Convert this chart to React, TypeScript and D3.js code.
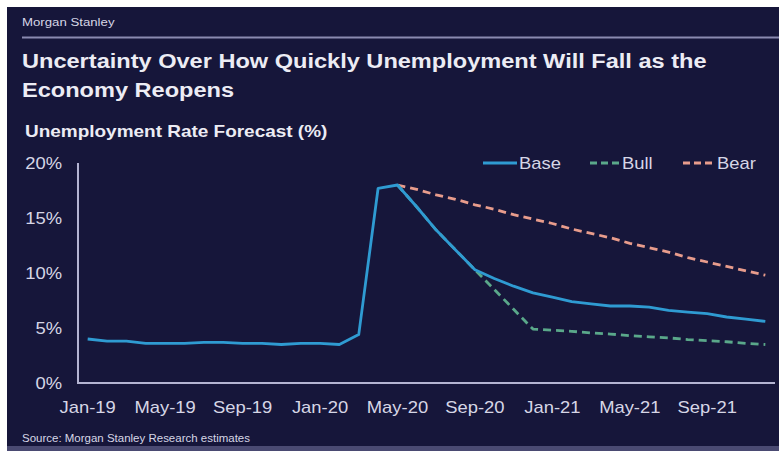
import React from "react";
import * as d3 from "d3";

const months: string[] = [
  "Jan-19","Feb-19","Mar-19","Apr-19","May-19","Jun-19","Jul-19","Aug-19","Sep-19","Oct-19","Nov-19","Dec-19",
  "Jan-20","Feb-20","Mar-20","Apr-20","May-20","Jun-20","Jul-20","Aug-20","Sep-20","Oct-20","Nov-20","Dec-20",
  "Jan-21","Feb-21","Mar-21","Apr-21","May-21","Jun-21","Jul-21","Aug-21","Sep-21","Oct-21","Nov-21","Dec-21",
];

const tickLabels: string[] = ["Jan-19","May-19","Sep-19","Jan-20","May-20","Sep-20","Jan-21","May-21","Sep-21"];
const yTicks: number[] = [0, 5, 10, 15, 20];

const baseValues: (number | null)[] = [
  4.0, 3.8, 3.8, 3.6, 3.6, 3.6, 3.7, 3.7, 3.6, 3.6, 3.5, 3.6,
  3.6, 3.5, 4.4, 17.7, 18.0, 16.0, 13.9, 12.1, 10.3, 9.5, 8.8, 8.2,
  7.8, 7.4, 7.2, 7.0, 7.0, 6.9, 6.6, 6.45, 6.3, 6.0, 5.8, 5.6,
];

const bullValues: (number | null)[] = [
  null, null, null, null, null, null, null, null, null, null, null, null,
  null, null, null, null, 18.0, 16.0, 13.9, 12.1, 10.3, 8.5, 6.7, 4.9,
  4.8, 4.7, 4.55, 4.45, 4.3, 4.2, 4.1, 3.95, 3.85, 3.75, 3.6, 3.5,
];

const bearValues: (number | null)[] = [
  null, null, null, null, null, null, null, null, null, null, null, null,
  null, null, null, null, 18.0, 17.6, 17.1, 16.7, 16.2, 15.8, 15.3, 14.9,
  14.5, 14.0, 13.6, 13.2, 12.7, 12.3, 11.9, 11.4, 11.0, 10.6, 10.2, 9.8,
];

const W = 779;
const H = 451;
const BG = "#16163a";
const TEXT = "#d6d6e6";
const AXIS = "#b4b4d2";
const FONT = "'Liberation Sans', Arial, sans-serif";
const SX = 1.15;

type TProps = {
  x: number;
  y: number;
  size: number;
  bold?: boolean;
  anchor?: "start" | "middle" | "end";
  fill?: string;
  children: React.ReactNode;
};

function T({ x, y, size, bold, anchor = "start", fill = TEXT, children }: TProps) {
  return (
    <text
      transform={`translate(${x},${y}) scale(${SX},1)`}
      fontSize={size}
      fontWeight={bold ? "bold" : "normal"}
      textAnchor={anchor}
      fill={fill}
    >
      {children}
    </text>
  );
}

export default function App() {
  const x = d3.scaleBand<string>().domain(months).range([78, 775]).paddingInner(0).paddingOuter(0);
  const y = d3.scaleLinear().domain([0, 20]).range([383, 163]);
  const cx = (m: string) => (x(m) ?? 0) + x.bandwidth() / 2;

  const line = d3
    .line<number | null>()
    .defined((d) => d !== null)
    .x((_, i) => cx(months[i]))
    .y((d) => y(d as number));

  const series = [
    { name: "Base", values: baseValues, color: "#2f9bd2", dash: "none" },
    { name: "Bull", values: bullValues, color: "#5aa88a", dash: "8,5" },
    { name: "Bear", values: bearValues, color: "#e89c8c", dash: "8,5" },
  ];

  const legend = [
    { name: "Base", color: "#2f9bd2", dash: "none", x1: 483, x2: 517, tx: 519 },
    { name: "Bull", color: "#5aa88a", dash: "7,4", x1: 590, x2: 621, tx: 622 },
    { name: "Bear", color: "#e89c8c", dash: "7,4", x1: 683, x2: 716, tx: 717 },
  ];

  return (
    <div style={{ position: "absolute", left: 0, top: 0 }}>
      <svg width={W} height={H} style={{ display: "block" }} fontFamily={FONT}>
        <rect x={0} y={0} width={W} height={H} fill="#ffffff" />
        <rect x={7} y={7} width={W - 7} height={H - 7} fill={BG} />
        <rect x={7} y={446} width={W - 7} height={5} fill="#4a4a72" />

        <T x={22} y={26} size={11.5}>Morgan Stanley</T>
        <line x1={22} x2={W} y1={37.5} y2={37.5} stroke="#8a8ab0" strokeWidth={2} />

        <T x={22} y={68} size={20.5} bold fill="#ececf4">
          Uncertainty Over How Quickly Unemployment Will Fall as the
        </T>
        <T x={22} y={97} size={20.5} bold fill="#ececf4">
          Economy Reopens
        </T>
        <T x={25} y={137} size={16.5} bold fill="#ececf4">
          Unemployment Rate Forecast (%)
        </T>

        {yTicks.map((t) => (
          <T key={t} x={62} y={y(t) + 6} size={16} anchor="end">
            {`${t}%`}
          </T>
        ))}
        {tickLabels.map((t) => (
          <T key={t} x={cx(t)} y={413} size={16} anchor="middle">
            {t}
          </T>
        ))}

        <line x1={78} x2={78} y1={163} y2={383} stroke={AXIS} strokeWidth={2} />
        <line x1={77} x2={775} y1={383} y2={383} stroke={AXIS} strokeWidth={2} />

        {series
          .slice()
          .reverse()
          .map((s) => (
            <path
              key={s.name}
              d={line(s.values) ?? ""}
              fill="none"
              stroke={s.color}
              strokeWidth={2.8}
              strokeDasharray={s.dash === "none" ? undefined : s.dash}
              strokeLinejoin="round"
            />
          ))}

        {legend.map((l) => (
          <g key={l.name}>
            <line
              x1={l.x1}
              x2={l.x2}
              y1={163}
              y2={163}
              stroke={l.color}
              strokeWidth={2.8}
              strokeDasharray={l.dash === "none" ? undefined : l.dash}
            />
            <T x={l.tx} y={169} size={16}>
              {l.name}
            </T>
          </g>
        ))}

        <T x={22} y={442} size={10}>
          Source: Morgan Stanley Research estimates
        </T>
      </svg>
    </div>
  );
}
